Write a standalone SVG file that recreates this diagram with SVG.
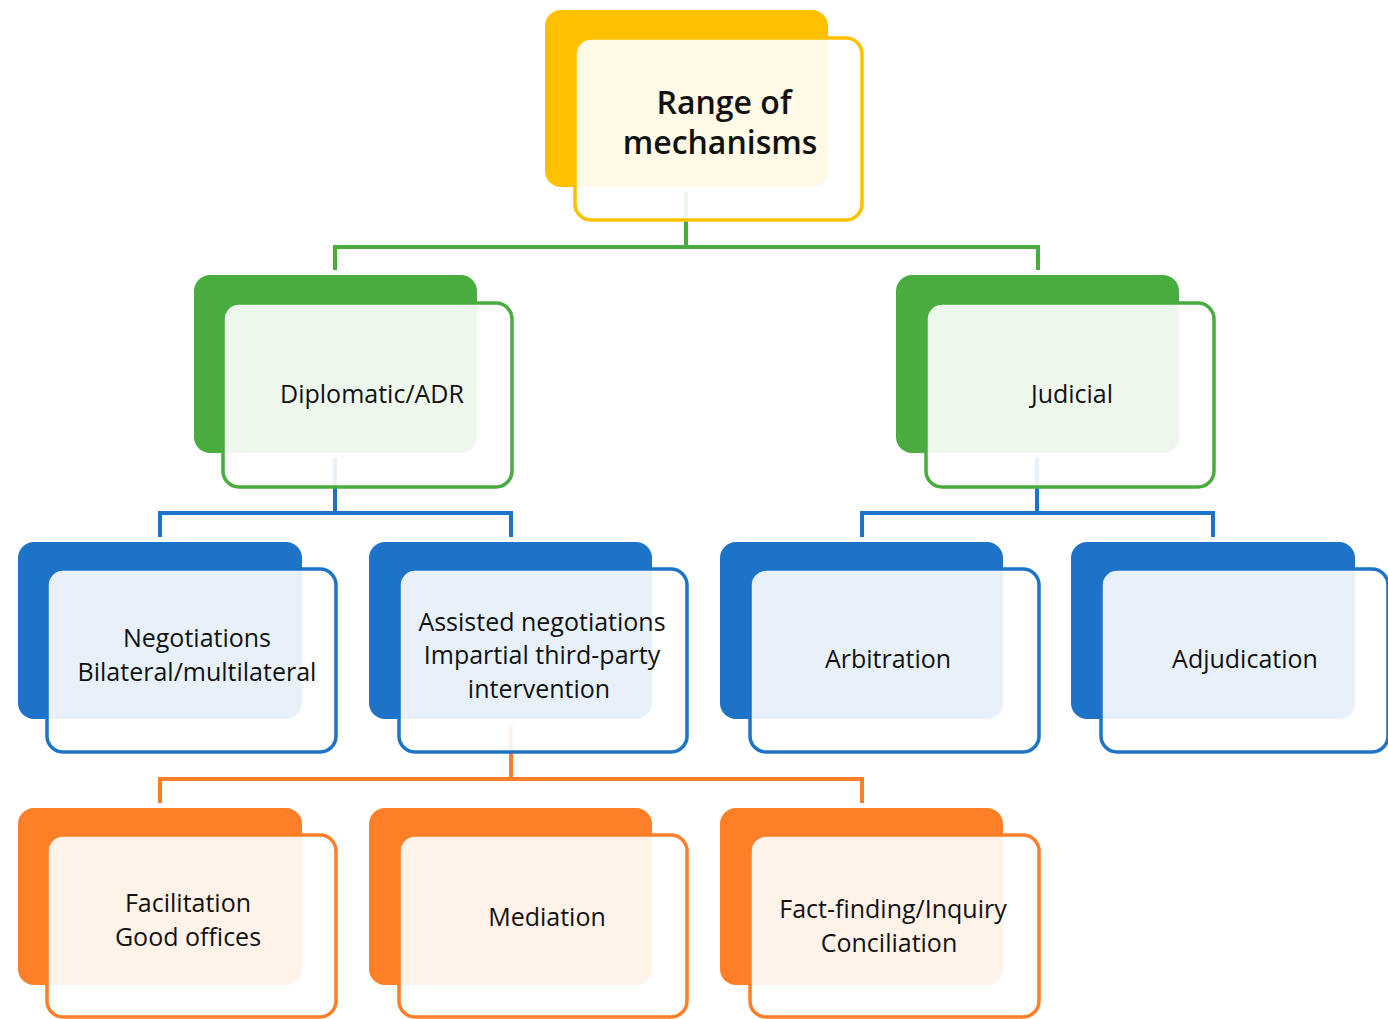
<svg xmlns="http://www.w3.org/2000/svg" width="1388" height="1019" viewBox="0 0 1388 1019">
<style>
.bk{stroke:none}
.fr{fill:#ffffff;fill-opacity:0.9;stroke-width:3.5}
.y .bk{fill:#FFC000}.y .fr{stroke:#FFC000}
.g .bk{fill:#48AD3E}.g .fr{stroke:#48AD3E}
.b .bk{fill:#1C73C7}.b .fr{stroke:#1C73C7}
.o .bk{fill:#FE7F27}.o .fr{stroke:#FE7F27}
text{font-family:"Open Sans","Liberation Sans",sans-serif;font-size:25px;fill:#111111;text-anchor:middle}
.t{font-size:32px;font-weight:600}
.c{fill:none;stroke-width:4}
</style>
<rect width="1388" height="1019" fill="#ffffff"/>
<g id="connectors">
<path class="c" stroke="#48AD3E" d="M686,192 V247 M335,270 V247 H1038 V270"/>
<path class="c" stroke="#1C73C7" d="M335,458 V513 M160,537 V513 H511 V537"/>
<path class="c" stroke="#1C73C7" d="M1037,458 V513 M862,537 V513 H1213 V537"/>
<path class="c" stroke="#FE7F27" d="M511,725 V779 M160,803 V779 H862 V803"/>
</g>
<g id="n-range" class="y">
<rect class="bk" x="545" y="10" width="283" height="177" rx="16"/>
<rect class="fr" x="575" y="38" width="287" height="182" rx="16"/>
<text class="t" x="724" y="114">Range of</text>
<text class="t" x="720" y="154">mechanisms</text>
</g>
<g id="n-diplomatic" class="g">
<rect class="bk" x="194" y="275" width="283" height="178" rx="16"/>
<rect class="fr" x="223" y="303" width="289" height="184" rx="16"/>
<text x="372" y="403">Diplomatic/ADR</text>
</g>
<g id="n-judicial" class="g">
<rect class="bk" x="896" y="275" width="283" height="178" rx="16"/>
<rect class="fr" x="926" y="303" width="288" height="184" rx="16"/>
<text x="1072" y="403">Judicial</text>
</g>
<g id="n-negotiations" class="b">
<rect class="bk" x="18" y="542" width="284" height="177" rx="16"/>
<rect class="fr" x="47" y="569" width="289" height="183" rx="16"/>
<text x="197" y="647">Negotiations</text>
<text x="197" y="681">Bilateral/multilateral</text>
</g>
<g id="n-assisted" class="b">
<rect class="bk" x="369" y="542" width="283" height="177" rx="16"/>
<rect class="fr" x="399" y="569" width="288" height="183" rx="16"/>
<text x="542" y="631">Assisted negotiations</text>
<text x="542" y="664">Impartial third-party</text>
<text x="539" y="698">intervention</text>
</g>
<g id="n-arbitration" class="b">
<rect class="bk" x="720" y="542" width="283" height="177" rx="16"/>
<rect class="fr" x="750" y="569" width="289" height="183" rx="16"/>
<text x="888" y="668">Arbitration</text>
</g>
<g id="n-adjudication" class="b">
<rect class="bk" x="1071" y="542" width="284" height="177" rx="16"/>
<rect class="fr" x="1101" y="569" width="287" height="183" rx="16"/>
<text x="1245" y="668">Adjudication</text>
</g>
<g id="n-facilitation" class="o">
<rect class="bk" x="18" y="808" width="284" height="177" rx="16"/>
<rect class="fr" x="47" y="835" width="289" height="182" rx="16"/>
<text x="188" y="912">Facilitation</text>
<text x="188" y="946">Good offices</text>
</g>
<g id="n-mediation" class="o">
<rect class="bk" x="369" y="808" width="283" height="177" rx="16"/>
<rect class="fr" x="399" y="835" width="288" height="182" rx="16"/>
<text x="547" y="926">Mediation</text>
</g>
<g id="n-factfinding" class="o">
<rect class="bk" x="720" y="808" width="283" height="177" rx="16"/>
<rect class="fr" x="750" y="835" width="289" height="182" rx="16"/>
<text x="893" y="918">Fact-finding/Inquiry</text>
<text x="889" y="952">Conciliation</text>
</g>
</svg>
